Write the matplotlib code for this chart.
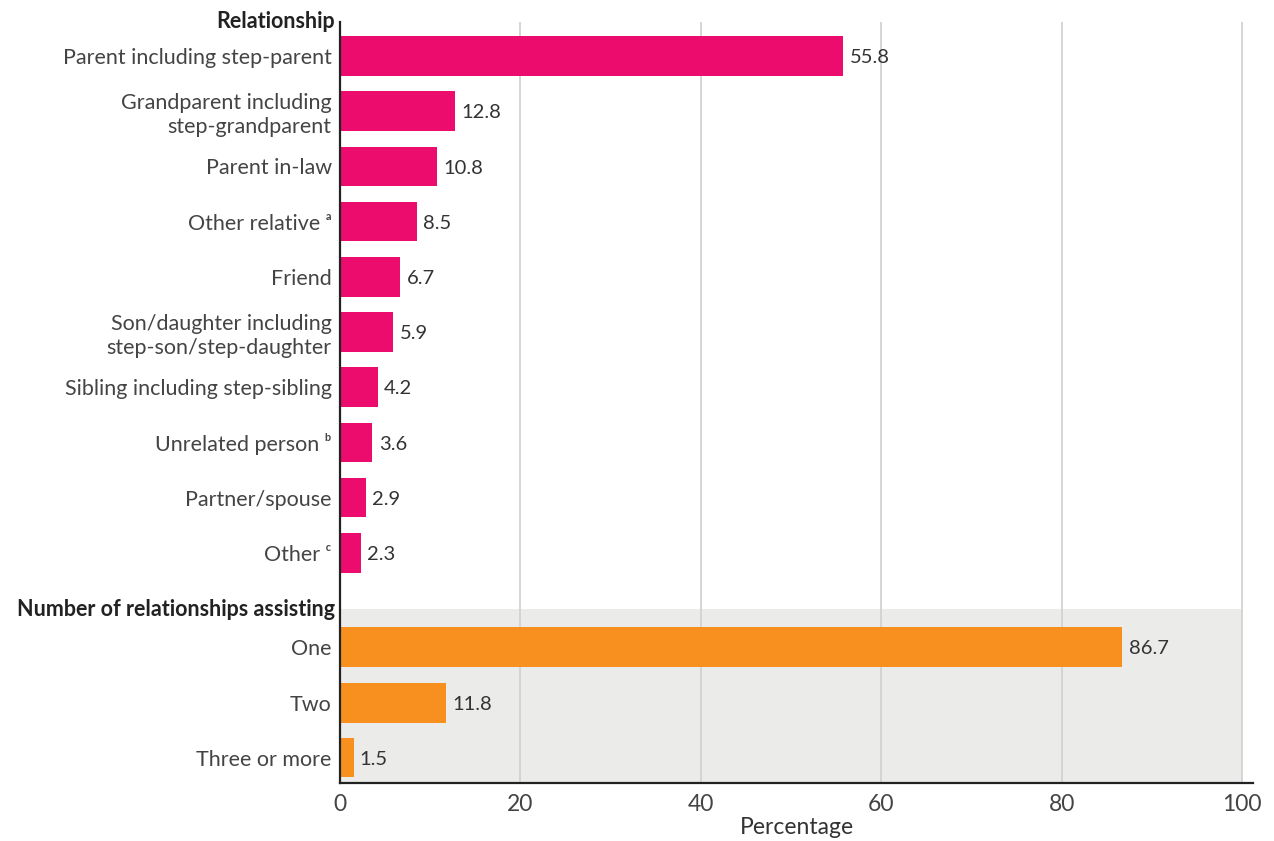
import matplotlib
matplotlib.use("Agg")
import matplotlib.pyplot as plt
from matplotlib.patches import Rectangle

plt.rcParams['font.family'] = ['Lato', 'DejaVu Sans']

# Data
relationship_labels = [
    "Parent including step-parent",
    "Grandparent including\nstep-grandparent",
    "Parent in-law",
    "Other relative \u1d43",
    "Friend",
    "Son/daughter including\nstep-son/step-daughter",
    "Sibling including step-sibling",
    "Unrelated person \u1d47",
    "Partner/spouse",
    "Other \u1d9c",
]
relationship_values = [55.8, 12.8, 10.8, 8.5, 6.7, 5.9, 4.2, 3.6, 2.9, 2.3]

count_labels = ["One", "Two", "Three or more"]
count_values = [86.7, 11.8, 1.5]

x_ticks = [0, 20, 40, 60, 80, 100]

PINK = "#EC0C6E"
ORANGE = "#F7901E"
PANEL = "#EBEBEA"
TEXT = "#333333"

fig = plt.figure(figsize=(12.74, 8.41), dpi=100)
ax = fig.add_axes([340 / 1274, 1 - 783 / 841, 913 / 1274, (783 - 22) / 841])

rel_pos = list(range(len(relationship_values)))
cnt_pos = [10.71, 11.72, 12.71]

# shaded panel behind the second group
ax.add_patch(Rectangle((0, 10.02), 100, 13.2 - 10.02, facecolor=PANEL,
                       edgecolor="none", zorder=0))

for x in x_ticks[1:]:
    ax.axvline(x, color="#D0D0D0", lw=1.2, zorder=1)

bh = 0.72
ax.barh(rel_pos, relationship_values, height=bh, color=PINK, zorder=2)
ax.barh(cnt_pos, count_values, height=bh, color=ORANGE, zorder=2)

for p, v in zip(rel_pos + cnt_pos, relationship_values + count_values):
    ax.text(v + 0.7, p + 0.03, f"{v:.1f}", va="center", ha="left",
            fontsize=14.5, color=TEXT, zorder=3)

ax.set_yticks(rel_pos + cnt_pos)
ax.set_yticklabels(relationship_labels + count_labels, fontsize=15.5,
                   color="#444444", linespacing=1.25)
ax.tick_params(axis="y", length=0, pad=6)

ax.set_xticks(x_ticks)
ax.set_xticklabels([str(t) for t in x_ticks], fontsize=16.5, color="#444444")
ax.tick_params(axis="x", length=0, pad=8)
ax.set_xlabel("Percentage", fontsize=16.5, color="#333333", labelpad=1)

ax.set_xlim(0, 101.2)
ax.set_ylim(13.17, -0.616)

for s in ("top", "right"):
    ax.spines[s].set_visible(False)
for s in ("left", "bottom"):
    ax.spines[s].set_color("#222222")
    ax.spines[s].set_linewidth(1.6)

# Group headings
ax.text(-0.006, -0.62, "Relationship", transform=ax.get_yaxis_transform(),
        ha="right", va="center", fontsize=15.5, fontweight="bold", color="#222222")
ax.text(-0.006, 10.03, "Number of relationships assisting",
        transform=ax.get_yaxis_transform(), ha="right", va="center",
        fontsize=15.5, fontweight="bold", color="#222222")

fig.savefig("out.png", dpi=100)
